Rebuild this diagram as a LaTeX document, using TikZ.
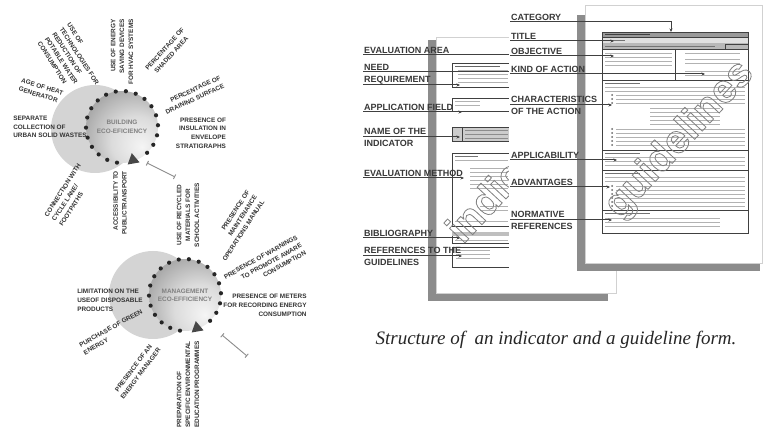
\documentclass[tikz,border=0pt]{standalone}
\usepackage{fontspec}
\setmainfont{Liberation Sans}
\newfontfamily\captionfont{Liberation Serif}
\usetikzlibrary{shapes.geometric,arrows.meta,positioning,calc}
\pgfdeclareradialshading{ecoshade}{\pgfpoint{14bp}{-14bp}}{%
  color(0bp)=(black!4); color(18bp)=(black!14); color(40bp)=(black!40); color(72bp)=(black!72)}

\begin{document}
\begin{tikzpicture}[x=1pt, y=-1pt,
  halo/.style={circle, fill=black!17, minimum size=88pt, inner sep=0pt},
  core/.style={circle, shade, shading=ecoshade, minimum size=72pt, inner sep=0pt, align=center,
               font=\bfseries\fontsize{6.4}{8.4}\selectfont, text=black!50},
  bead/.style={circle, fill=black!85, minimum size=4.2pt, inner sep=0pt},
  pointer/.style={regular polygon, regular polygon sides=3, fill=black!72, minimum size=14pt, inner sep=0pt},
  bracket/.style={{Bar[width=5pt]}-{Bar[width=5pt]}, black!45, line width=0.9pt},
  ray/.style={font=\bfseries\fontsize{6.4}{8.8}\selectfont, text=black!80, inner sep=0pt},
  field/.style={font=\bfseries\fontsize{9}{12}\selectfont, text=black!78, inner sep=1pt, anchor=south west},
  lead/.style={black!75, line width=1pt},
  tipped/.style={lead, -{Stealth[length=3.5pt, width=3pt]}},
  shadowbar/.style={fill=black!45},
  sheet/.style={fill=white, draw=black!18, line width=0.6pt},
  frame/.style={draw=black!75, line width=0.7pt},
  txt/.style={black!30, line width=0.9pt},
  stamp/.style={font=\bfseries\fontsize{40}{40}\selectfont, rotate=47, inner sep=0pt}
]
\useasboundingbox (0,0) rectangle (764,430);
\fill[white] (0,0) rectangle (764,430);

% building eco-efficiency
\node[halo] (bhalo) at (95,129) {};
\node[core] (bcore) at (122,127) {BUILDING\\ECO-EFICIENCY};
\foreach \i in {0,...,19}
  \node[bead] (bbead\i) at ($(bcore)+({98+16.2*\i}:36)$) {};
\node[pointer, rotate=10] (btri) at (133,160) {};
\coordinate (bbar1) at (147,163);
\coordinate (bbar2) at (175,177);
\draw[bracket] (bbar1) -- (bbar2);

\node[ray, align=left] (wastes) at (50,127) {SEPARATE\\COLLECTION OF\\URBAN SOLID WASTES};
\node[ray, align=left, rotate=-17] (heatgen) at (41,91) {AGE OF HEAT\\GENERATOR};
\node[ray, align=left, rotate=-57] (water) at (72,61) {USE OF\\TECHNOLOGIES FOR\\REDUCTION OF\\POTABLE WATER\\CONSUMPTION};
\node[ray, align=right, rotate=90] (hvac) at (122,52) {USE OF ENERGY\\SAVING DEVICES\\FOR HVAC SYSTEMS};
\node[ray, align=center, rotate=48] (shaded) at (168,52) {PERCENTAGE OF\\SHADED AREA};
\node[ray, align=right, rotate=25] (draining) at (193,95) {PERCENTAGE OF\\DRAINING SURFACE};
\node[ray, align=right] (insulation) at (201,133) {PRESENCE OF\\INSULATION IN\\ENVELOPE\\STRATIGRAPHS};
\node[ray, align=left, rotate=57] (cycle) at (70,195) {CONNECTION WITH\\CYCLE LANE/\\FOOTPATHS};
\node[ray, align=right, rotate=90] (transport) at (120,203) {ACCESSIBILITY TO\\PUBLICTRANSPORT};
\node[ray, align=center, rotate=90] (recycled) at (188,215) {USE OF RECYCLED\\MATERIALS FOR\\SCHOOL ACTIVITIES};

% management eco-efficiency
\node[halo] (mhalo) at (153,295) {};
\node[core] (mcore) at (185,295) {MANAGEMENT\\ECO-EFFICIENCY};
\foreach \i in {0,...,19}
  \node[bead] (mbead\i) at ($(mcore)+({98+16.2*\i}:36)$) {};
\node[pointer, rotate=10] (mtri) at (197,328) {};
\coordinate (mbar1) at (222,335);
\coordinate (mbar2) at (247,356);
\draw[bracket] (mbar1) -- (mbar2);

\node[ray, align=right, rotate=57] (manual) at (236,226) {PRESENCE OF\\MAINTENANCE\\OPERATIONS MANUAL};
\node[ray, align=right, rotate=29] (warnings) at (265,265) {PRESENCE OF WARNINGS\\TO PROMOTE AWARE\\CONSUMPTION};
\node[ray, align=right] (meters) at (265,305) {PRESENCE OF METERS\\FOR RECORDING ENERGY\\CONSUMPTION};
\node[ray, align=left] (disposable) at (110,300) {LIMITATION ON THE\\USEOF DISPOSABLE\\PRODUCTS};
\node[ray, align=left, rotate=29] (green) at (113,332) {PURCHASE OF GREEN\\ENERGY};
\node[ray, align=center, rotate=53] (manager) at (137,371) {PRESENCE OF AN\\ENERGY MANAGER};
\node[ray, align=left, rotate=90, anchor=west] (education) at (188,428) {PREPARATION OF\\SPECIFIC ENVIRONMENTAL\\EDUCATION PROGRAMMES};

% indicator form
\fill[shadowbar] (428,40) rectangle (608,301);
\draw[sheet] (436,37) rectangle (616,293);
\begin{scope}
\clip (440,30) rectangle (509,285);
\draw[frame] (452,63) rectangle (530,87);
\draw[txt, black!60] (455,66) -- (500,66);
\foreach \y in {70,74,78,82} \draw[txt] (458,\y) -- (508,\y);
\draw[frame] (452,98) rectangle (530,111);
\foreach \y in {101,105} \draw[txt] (455,\y) -- (480,\y);
\fill[black!20] (452,127) rectangle (530,141);
\draw[frame] (452,127) rectangle (530,141) (462,127) -- (462,141);
\foreach \y in {130,134,138} \draw[txt, black!45] (465,\y) -- (508,\y);
\draw[frame] (452,153) rectangle (530,226);
\draw[txt, black!55] (455,156) -- (478,156);
\draw[txt] (455,160) -- (508,160);
\foreach \y in {168,172,...,188} \draw[txt] (470,\y) -- (508,\y);
\foreach \y in {206,210} \draw[txt] (480,\y) -- (508,\y);
\draw[txt] (455,221) -- (508,221);
\draw[frame] (452,232) rectangle (530,243);
\fill[black!25] (452,232) rectangle (530,236);
\draw[txt] (455,240) -- (508,240);
\draw[frame] (452,247) rectangle (530,267);
\foreach \y in {250,254,258} \draw[txt] (456,\y) -- (490,\y);
\node[stamp, anchor=base west] (indmark) at (463,245)
  {\special{pdf:code q 1 Tr 0.8 w 0.5 G}indicator\special{pdf:code Q}};
\end{scope}
\fill[white] (509,0) rectangle (585,272);

% guideline form
\fill[shadowbar] (577,15) rectangle (760,271);
\draw[sheet] (585,5) rectangle (762,263);
\fill[black!40] (602,32) rectangle (748,37);
\fill[black!12] (602,37) rectangle (748,43);
\fill[black!28] (602,43) rectangle (748,49);
\draw[frame] (602,32) rectangle (748,233);
\draw[frame] (602,37) -- (748,37) (602,49) -- (748,49) (675,49) -- (675,80) (602,80) -- (748,80)
  (602,150) -- (748,150) (602,170) -- (748,170) (602,210) -- (748,210);
\draw[txt, black!75] (605,34.5) -- (650,34.5);
\draw[txt, black!55] (605,40) -- (625,40);
\draw[txt, black!55] (605,46) -- (715,46);
\draw[frame] (725,44) rectangle (748,49);
\foreach \y in {53,57,61,65} \draw[txt] (605,\y) -- (672,\y);
\foreach \y in {53,59,63,71,75} \draw[txt] (685,\y) -- (740,\y);
\draw[txt, black!55] (605,83) -- (640,83);
\foreach \y in {87,91} \draw[txt] (605,\y) -- (745,\y);
\foreach \y in {95,99,103} {\fill[black!60] (612,\y) circle (1); \draw[txt] (616,\y) -- (745,\y);}
\foreach \y in {108,112,...,124} \draw[txt] (650,\y) -- (720,\y);
\foreach \y in {129,133,137,141,145} {\fill[black!60] (612,\y) circle (1); \draw[txt] (616,\y) -- (745,\y);}
\draw[txt, black!55] (605,153) -- (640,153);
\foreach \y in {157,161,165} \draw[txt] (605,\y) -- (745,\y);
\draw[txt, black!55] (605,173) -- (640,173);
\foreach \y in {177,181} \draw[txt] (605,\y) -- (745,\y);
\foreach \y in {186,190,...,206} {\fill[black!60] (612,\y) circle (1); \draw[txt] (616,\y) -- (745,\y);}
\draw[txt, black!55] (605,213) -- (650,213);
\foreach \y in {218,222,226} \draw[txt] (605,\y) -- (720,\y);
\node[stamp] (guidemark) at (680,140)
  {\special{pdf:code q 1 Tr 0.8 w 0.5 G}guidelines\special{pdf:code Q}};

% indicator labels
\node[field] (evalarea) at (363,55) {EVALUATION AREA};
\coordinate (evalareaend) at (509,55);
\draw[lead] (evalarea.south west) -- (evalareaend);
\node[field] (need) at (363,72) {NEED};
\coordinate (needend) at (509,72);
\draw[lead] (need.south west) -- (needend);
\node[field] (requirement) at (363,85) {REQUIREMENT};
\coordinate (requirementend) at (460,85);
\draw[tipped] (requirement.south west) -- (requirementend);
\node[field] (appfield) at (363,112) {APPLICATION FIELD};
\coordinate (appfieldend) at (462,112);
\draw[tipped] (appfield.south west) -- (appfieldend);
\node[field, anchor=west, align=left] (indname) at (363,137) {NAME OF THE\\INDICATOR};
\coordinate (indnameend) at (460,137);
\draw[tipped] (indname.west) -- (indnameend);
\node[field] (evalmethod) at (363,178) {EVALUATION METHOD};
\coordinate (evalmethodend) at (464,178);
\draw[tipped] (evalmethod.south west) -- (evalmethodend);
\node[field] (biblio) at (363,238) {BIBLIOGRAPHY};
\coordinate (biblioend) at (460,238);
\draw[tipped] (biblio.south west) -- (biblioend);
\node[field, anchor=west, align=left] (guideref) at (363,256) {REFERENCES TO THE\\GUIDELINES};
\coordinate (guiderefend) at (462,256);
\draw[tipped] (guideref.west) -- (guiderefend);

% guideline labels
\node[field] (category) at (510,22) {CATEGORY};
\coordinate (categoryend) at (671,32);
\draw[tipped] (category.south west) -| (categoryend);
\node[field] (title) at (510,41) {TITLE};
\coordinate (titleend) at (614,41);
\draw[tipped] (title.south west) -- (titleend);
\node[field] (objective) at (510,56) {OBJECTIVE};
\coordinate (objectiveend) at (614,56);
\draw[tipped] (objective.south west) -- (objectiveend);
\node[field] (kind) at (510,74) {KIND OF ACTION};
\coordinate (kindend) at (705,74);
\draw[tipped] (kind.south west) -- (kindend);
\node[field, anchor=west, align=left] (charact) at (510,105) {CHARACTERISTICS\\OF THE ACTION};
\coordinate (characTend) at (612,105);
\draw[tipped] (charact.west) -- (characTend);
\node[field] (applic) at (510,160) {APPLICABILITY};
\coordinate (applicend) at (617,160);
\draw[tipped] (applic.south west) -- (applicend);
\node[field] (advant) at (510,187) {ADVANTAGES};
\coordinate (advantend) at (610,187);
\draw[tipped] (advant.south west) -- (advantend);
\node[field, anchor=west, align=left] (normref) at (510,220) {NORMATIVE\\REFERENCES};
\coordinate (normrefend) at (612,220);
\draw[tipped] (normref.west) -- (normrefend);

\node[font=\captionfont\itshape\fontsize{19}{21}\selectfont, text=black!85, anchor=base] (caption)
  at (556,345) {Structure of \ an indicator and a guideline form.};
\end{tikzpicture}
\end{document}
